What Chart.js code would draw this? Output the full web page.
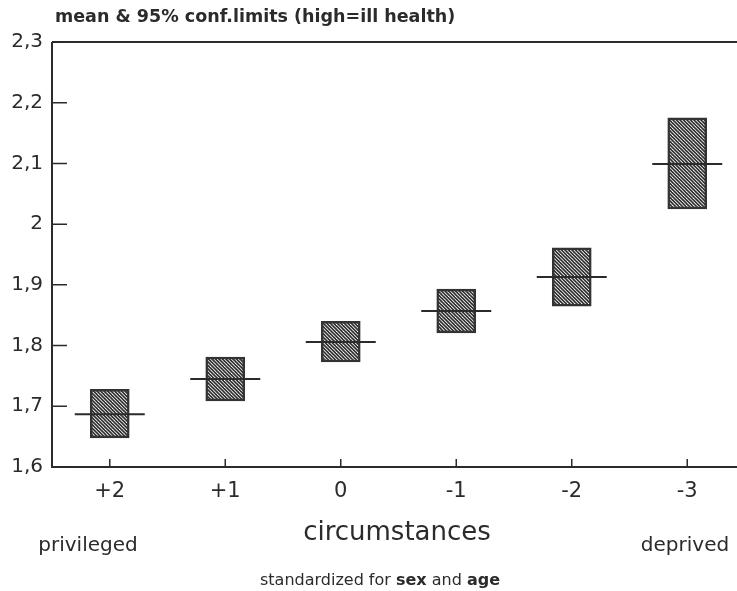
<!DOCTYPE html>
<html>
<head>
<meta charset="utf-8">
<script src="https://cdn.jsdelivr.net/npm/chart.js@4/dist/chart.umd.min.js"></script>
<style>
  html, body { margin: 0; padding: 0; background: #fff; overflow: hidden; width: 737px; height: 591px; }
  #wrap { position: relative; width: 745px; height: 591px; }
</style>
</head>
<body>
<div id="wrap"><canvas id="chart" width="745" height="591"></canvas></div>
<script>
const categories = ["+2", "+1", "0", "-1", "-2", "-3"];
const lowerLimits = [1.648, 1.709, 1.773, 1.821, 1.865, 2.025];
const upperLimits = [1.728, 1.781, 1.840, 1.893, 1.961, 2.175];
const means = [1.687, 1.745, 1.806, 1.857, 1.913, 2.099];
const yTicks = [1.6, 1.7, 1.8, 1.9, 2.0, 2.1, 2.2, 2.3];

const ink = "#2b2b2b";
const font = "'DejaVu Sans', Verdana, sans-serif";

// diagonal hatch like the old printout
function hatch() {
  const c = document.createElement("canvas");
  c.width = 7;
  c.height = 7;
  const g = c.getContext("2d");
  g.fillStyle = "#fff";
  g.fillRect(0, 0, 7, 7);
  g.strokeStyle = "#2e2e2e";
  g.lineWidth = 1.6;
  [-7, -3.5, 0, 3.5, 7].forEach((k) => {
    g.beginPath();
    g.moveTo(k - 2, -2);
    g.lineTo(k + 9, 9);
    g.stroke();
  });
  return g.createPattern(c, "repeat");
}

const frame = {
  id: "frame",
  afterDraw(chart) {
    const { ctx, chartArea: a, scales } = chart;
    ctx.save();
    ctx.strokeStyle = ink;
    ctx.lineWidth = 2;
    ctx.beginPath();
    ctx.moveTo(a.left, a.top);
    ctx.lineTo(a.right, a.top);
    ctx.moveTo(a.left, a.top);
    ctx.lineTo(a.left, a.bottom);
    ctx.lineTo(a.right, a.bottom);
    ctx.stroke();

    ctx.lineWidth = 1.5;
    ctx.beginPath();
    yTicks.forEach((v) => {
      const y = scales.y.getPixelForValue(v);
      ctx.moveTo(a.left, y);
      ctx.lineTo(a.left + 15, y);
    });
    categories.forEach((c, i) => {
      const x = scales.x.getPixelForValue(i);
      ctx.moveTo(x, a.bottom);
      ctx.lineTo(x, a.bottom - 8);
    });
    ctx.stroke();

    ctx.fillStyle = ink;
    ctx.textBaseline = "middle";
    ctx.textAlign = "left";
    ctx.font = "bold 17.5px " + font;
    ctx.fillText("mean & 95% conf.limits (high=ill health)", 55, 17);

    ctx.textAlign = "center";
    ctx.font = "26px " + font;
    ctx.fillText("circumstances", 397, 533);
    ctx.font = "20px " + font;
    ctx.fillText("privileged", 88, 546);
    ctx.fillText("deprived", 685, 546);

    // footnote with bold words
    const parts = [["standardized for ", false], ["sex", true], [" and ", false], ["age", true]];
    let total = 0;
    parts.forEach((p) => {
      ctx.font = (p[1] ? "bold " : "") + "16px " + font;
      total += ctx.measureText(p[0]).width;
    });
    let x = 380 - total / 2;
    ctx.textAlign = "left";
    parts.forEach((p) => {
      ctx.font = (p[1] ? "bold " : "") + "16px " + font;
      ctx.fillText(p[0], x, 581);
      x += ctx.measureText(p[0]).width;
    });
    ctx.restore();
  },
};

new Chart(document.getElementById("chart"), {
  type: "bar",
  data: {
    labels: categories,
    datasets: [
      {
        type: "line",
        data: means,
        showLine: false,
        pointStyle: "line",
        pointRadius: 35,
        pointHoverRadius: 35,
        pointBorderWidth: 2,
        pointBorderColor: ink,
        order: 0,
      },
      {
        type: "bar",
        data: categories.map((c, i) => [lowerLimits[i], upperLimits[i]]),
        backgroundColor: hatch(),
        borderColor: "#333",
        borderWidth: 2.5,
        borderSkipped: false,
        barThickness: 39,
        order: 1,
      },
    ],
  },
  options: {
    responsive: false,
    animation: false,
    events: [],
    layout: { autoPadding: false, padding: { top: 42, left: 0, right: 0, bottom: 0 } },
    plugins: { legend: { display: false }, tooltip: { enabled: false } },
    scales: {
      x: {
        grid: { display: false },
        border: { display: false },
        ticks: { color: ink, padding: 4, font: { family: font, size: 21 } },
        afterFit(scale) { scale.height = 124; },
      },
      y: {
        min: 1.6,
        max: 2.3,
        grid: { display: false },
        border: { display: false },
        afterBuildTicks(scale) { scale.ticks = yTicks.map((v) => ({ value: v })); },
        ticks: {
          color: ink,
          padding: 1,
          font: { family: font, size: 20 },
          callback: (v) => String(v).replace(".", ","),
        },
        afterFit(scale) { scale.width = 52; },
      },
    },
  },
  plugins: [frame],
});
</script>
</body>
</html>
